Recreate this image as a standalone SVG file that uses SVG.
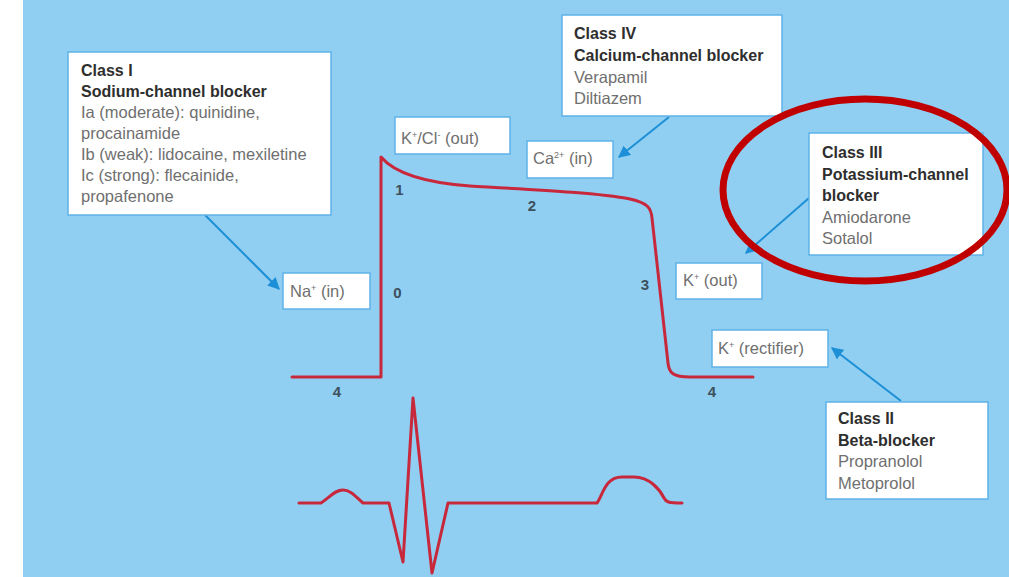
<svg xmlns="http://www.w3.org/2000/svg" width="1009" height="577" viewBox="0 0 1009 577">
<defs>
<style>
.box{fill:#ffffff;stroke:#5fb2e8;stroke-width:1.5}
.b{font-family:"Liberation Sans",Arial,sans-serif;font-weight:bold;font-size:16px;fill:#2e2e2e}
.r{font-family:"Liberation Sans",Arial,sans-serif;font-size:16.5px;fill:#6f6f6f}
.n{font-family:"Liberation Sans",Arial,sans-serif;font-size:15px;font-weight:bold;fill:#3d505c;text-anchor:middle}
.conn{stroke:#1c8fd6;stroke-width:2;fill:none;marker-end:url(#ah)}
.wave{stroke:#c8283c;stroke-width:3;fill:none;stroke-linejoin:round;stroke-linecap:round}
</style>
<marker id="ah" viewBox="0 0 10 10" refX="9" refY="5" markerWidth="6" markerHeight="6" orient="auto" markerUnits="strokeWidth">
<path d="M0,0 L10,5 L0,10 z" fill="#1c8fd6"/>
</marker>
</defs>
<rect x="0" y="0" width="1009" height="577" fill="#ffffff"/>
<rect x="23" y="0" width="986" height="577" fill="#90cff2"/>

<g id="waves">
<path class="wave" d="M292,377 H381 V157 C392,170 415,182 470,186 C540,190 600,193 630,199 C648,203 651,208 652,218 L668,363 C669,373 673,377 690,377 H753"/>
<path class="wave" d="M299,503 H321 C330,497 335,490 343,490 C351,490 356,497 363,503 H389 L403,562 L413,398 L432,573 L448,503 H597 C603,495 605,477 622,477 H634 C650,477 660,490 664,498 C666,502 668,503 682,503"/>
</g>

<g id="connectors">
<line class="conn" x1="205" y1="215" x2="279" y2="289"/>
<line class="conn" x1="669" y1="117" x2="619" y2="157"/>
<line class="conn" x1="809" y1="198" x2="746" y2="253"/>
<line class="conn" x1="901" y1="401" x2="832" y2="348"/>
</g>

<g id="class1">
<rect class="box" x="68" y="52" width="263" height="163"/>
<text class="b" x="81" y="76">Class I</text>
<text class="b" x="81" y="97">Sodium-channel blocker</text>
<text class="r" x="81" y="118">Ia (moderate): quinidine,</text>
<text class="r" x="81" y="139">procainamide</text>
<text class="r" x="81" y="160">Ib (weak): lidocaine, mexiletine</text>
<text class="r" x="81" y="181">Ic (strong): flecainide,</text>
<text class="r" x="81" y="202">propafenone</text>
</g>

<g id="class4">
<rect class="box" x="562" y="15" width="220" height="101"/>
<text class="b" x="574" y="39">Class IV</text>
<text class="b" x="574" y="61">Calcium-channel blocker</text>
<text class="r" x="574" y="82.5">Verapamil</text>
<text class="r" x="574" y="104">Diltiazem</text>
</g>

<g id="class3">
<rect class="box" x="809" y="133" width="174" height="122"/>
<text class="b" x="822" y="158">Class III</text>
<text class="b" x="822" y="179.5">Potassium-channel</text>
<text class="b" x="822" y="201">blocker</text>
<text class="r" x="822" y="222.5">Amiodarone</text>
<text class="r" x="822" y="244">Sotalol</text>
</g>

<g id="class2">
<rect class="box" x="826" y="402" width="162" height="97"/>
<text class="b" x="838" y="424">Class II</text>
<text class="b" x="838" y="445.5">Beta-blocker</text>
<text class="r" x="838" y="467">Propranolol</text>
<text class="r" x="838" y="488.5">Metoprolol</text>
</g>

<g id="kcl-out">
<rect class="box" x="395" y="117" width="115" height="37"/>
<text class="r" x="401" y="144">K<tspan font-size="9" dy="-6">+</tspan><tspan dy="6">/Cl</tspan><tspan font-size="9" dy="-6">-</tspan><tspan dy="6"> (out)</tspan></text>
</g>

<g id="ca-in">
<rect class="box" x="527" y="141" width="86" height="37"/>
<text class="r" x="533" y="164">Ca<tspan font-size="9" dy="-6">2+</tspan><tspan dy="6"> (in)</tspan></text>
</g>

<g id="na-in">
<rect class="box" x="283" y="273" width="87" height="36"/>
<text class="r" x="290" y="297">Na<tspan font-size="9" dy="-6">+</tspan><tspan dy="6"> (in)</tspan></text>
</g>

<g id="k-out">
<rect class="box" x="676" y="263" width="86" height="36"/>
<text class="r" x="683" y="286">K<tspan font-size="9" dy="-6">+</tspan><tspan dy="6"> (out)</tspan></text>
</g>

<g id="k-rect">
<rect class="box" x="712" y="330" width="116" height="37"/>
<text class="r" x="718" y="354">K<tspan font-size="9" dy="-6">+</tspan><tspan dy="6"> (rectifier)</tspan></text>
</g>

<g id="phases">
<text class="n" x="399.5" y="195">1</text>
<text class="n" x="532" y="211">2</text>
<text class="n" x="397.5" y="298">0</text>
<text class="n" x="645" y="290">3</text>
<text class="n" x="337" y="397">4</text>
<text class="n" x="712" y="397">4</text>
</g>

<g id="highlight">
<ellipse cx="865" cy="190" rx="142" ry="91" fill="none" stroke="#c00000" stroke-width="7"/>
</g>
</svg>
